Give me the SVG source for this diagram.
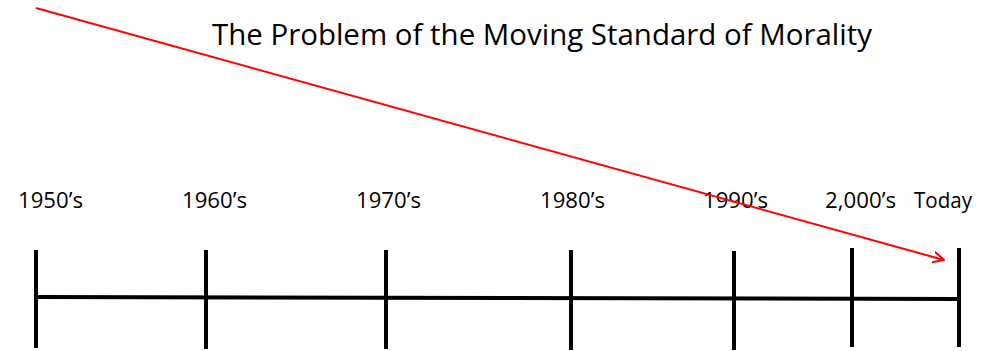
<svg xmlns="http://www.w3.org/2000/svg" width="987" height="351" viewBox="0 0 987 351">
<style>
text{font-family:"Open Sans","Noto Sans","Liberation Sans",sans-serif;fill:#000}
.t{font-size:30px}
.l{font-size:21px}
.tick{stroke:#000;stroke-width:4}
.axis{stroke:#000;stroke-width:4}
</style>
<defs>
<marker id="ah" markerWidth="12" markerHeight="12" refX="11" refY="6" orient="auto" markerUnits="userSpaceOnUse" viewBox="0 0 12 12">
<path d="M0,0.5 L11,6 L0,11.5" fill="none" stroke="#f00" stroke-width="2"/>
</marker>
</defs>
<rect width="987" height="351" fill="#fff"/>
<g id="title"><text class="t" x="212" y="45" textLength="660" lengthAdjust="spacingAndGlyphs">The Problem of the Moving Standard of Morality</text></g>
<g id="axis"><line class="axis" x1="36" y1="297" x2="959" y2="299"/></g>
<g id="n1950"><line class="tick" x1="36" y1="250" x2="36" y2="348"/><text class="l" x="18" y="208" textLength="65" lengthAdjust="spacingAndGlyphs">1950’s</text></g>
<g id="n1960"><line class="tick" x1="206" y1="250" x2="206" y2="349"/><text class="l" x="182" y="208" textLength="65" lengthAdjust="spacingAndGlyphs">1960’s</text></g>
<g id="n1970"><line class="tick" x1="386" y1="250" x2="386" y2="349"/><text class="l" x="356" y="208" textLength="65" lengthAdjust="spacingAndGlyphs">1970’s</text></g>
<g id="n1980"><line class="tick" x1="571" y1="250" x2="571" y2="350"/><text class="l" x="540" y="208" textLength="65" lengthAdjust="spacingAndGlyphs">1980’s</text></g>
<g id="n1990"><line class="tick" x1="734" y1="251" x2="734" y2="350"/><text class="l" x="703" y="208" textLength="65" lengthAdjust="spacingAndGlyphs">1990’s</text></g>
<g id="n2000"><line class="tick" x1="852" y1="248" x2="852" y2="347"/><text class="l" x="825" y="208" textLength="71" lengthAdjust="spacingAndGlyphs">2,000’s</text></g>
<g id="today"><line class="tick" x1="959" y1="248" x2="959" y2="347"/><text class="l" x="914" y="208" textLength="58" lengthAdjust="spacingAndGlyphs">Today</text></g>
<g id="connectors"><line x1="36" y1="8" x2="944" y2="260" stroke="#f00" stroke-width="2" marker-end="url(#ah)"/></g>
</svg>
